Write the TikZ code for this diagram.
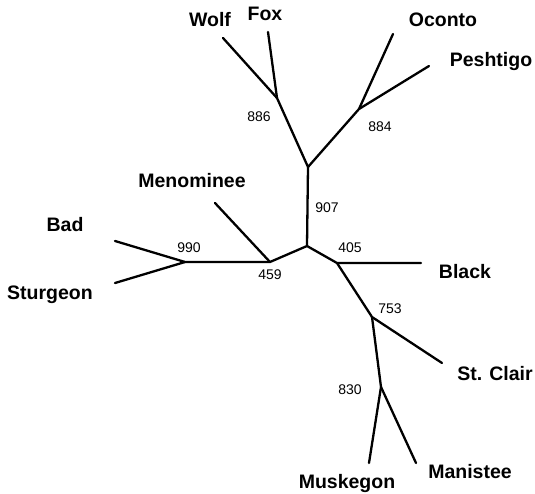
\documentclass[tikz,border=0pt]{standalone}
\usepackage{fontspec}
\setmainfont{Liberation Sans}
\begin{document}
\begin{tikzpicture}[x=1pt,y=-1pt,
  branch/.style={line width=2.3pt,line cap=round,line join=round},
  taxon/.style={font=\fontsize{19.5}{20}\selectfont\bfseries,inner sep=0pt,anchor=base},
  boot/.style={font=\fontsize{14}{15}\selectfont,inner sep=0pt,anchor=center}]
\useasboundingbox (0,0) rectangle (535,494);
% internal nodes
\coordinate (c)   at (307,246);
\coordinate (u)   at (308,167);
\coordinate (n886) at (277,98);
\coordinate (n884) at (359,109);
\coordinate (n459) at (270,262);
\coordinate (n990) at (185,262);
\coordinate (n405) at (337,263);
\coordinate (n753) at (372,317);
\coordinate (n830) at (381,387);
% branch tips
\coordinate (wolf) at (223,38);
\coordinate (fox) at (268,32);
\coordinate (oconto) at (393,34);
\coordinate (peshtigo) at (429,66);
\coordinate (menominee) at (215,203);
\coordinate (bad) at (115,241);
\coordinate (sturgeon) at (115,283);
\coordinate (black) at (421,263);
\coordinate (stclair) at (442,363);
\coordinate (muskegon) at (369,463);
\coordinate (manistee) at (416,463);
% tree
\draw[branch] (c) -- (u);
\draw[branch] (u) -- (n886) -- (wolf);
\draw[branch] (n886) -- (fox);
\draw[branch] (u) -- (n884) -- (oconto);
\draw[branch] (n884) -- (peshtigo);
\draw[branch] (c) -- (n459) -- (n990) -- (bad);
\draw[branch] (n990) -- (sturgeon);
\draw[branch] (n459) -- (menominee);
\draw[branch] (c) -- (n405) -- (black);
\draw[branch] (n405) -- (n753) -- (stclair);
\draw[branch] (n753) -- (n830) -- (muskegon);
\draw[branch] (n830) -- (manistee);
% taxa
\node[taxon] (tWolf) at (210,27) {Wolf};
\node[taxon] (tFox) at (265,21) {Fox};
\node[taxon] (tOconto) at (443,27) {Oconto};
\node[taxon] (tPeshtigo) at (491,67) {Peshtigo};
\node[taxon] (tMenominee) at (192,188) {Menominee};
\node[taxon] (tBad) at (65,232) {Bad};
\node[taxon] (tSturgeon) at (50,299) {Sturgeon};
\node[taxon] (tBlack) at (465,278) {Black};
\node[taxon] (tStClair) at (495,380) {St. Clair};
\node[taxon] (tMuskegon) at (347,488) {Muskegon};
\node[taxon] (tManistee) at (470,478) {Manistee};
% bootstrap values
\node[boot] (b886) at (259,117) {886};
\node[boot] (b884) at (380,127) {884};
\node[boot] (b907) at (327,208) {907};
\node[boot] (b990) at (189,248) {990};
\node[boot] (b459) at (270,275) {459};
\node[boot] (b405) at (350,248) {405};
\node[boot] (b753) at (390,309) {753};
\node[boot] (b830) at (350,390) {830};
\end{tikzpicture}
\end{document}
